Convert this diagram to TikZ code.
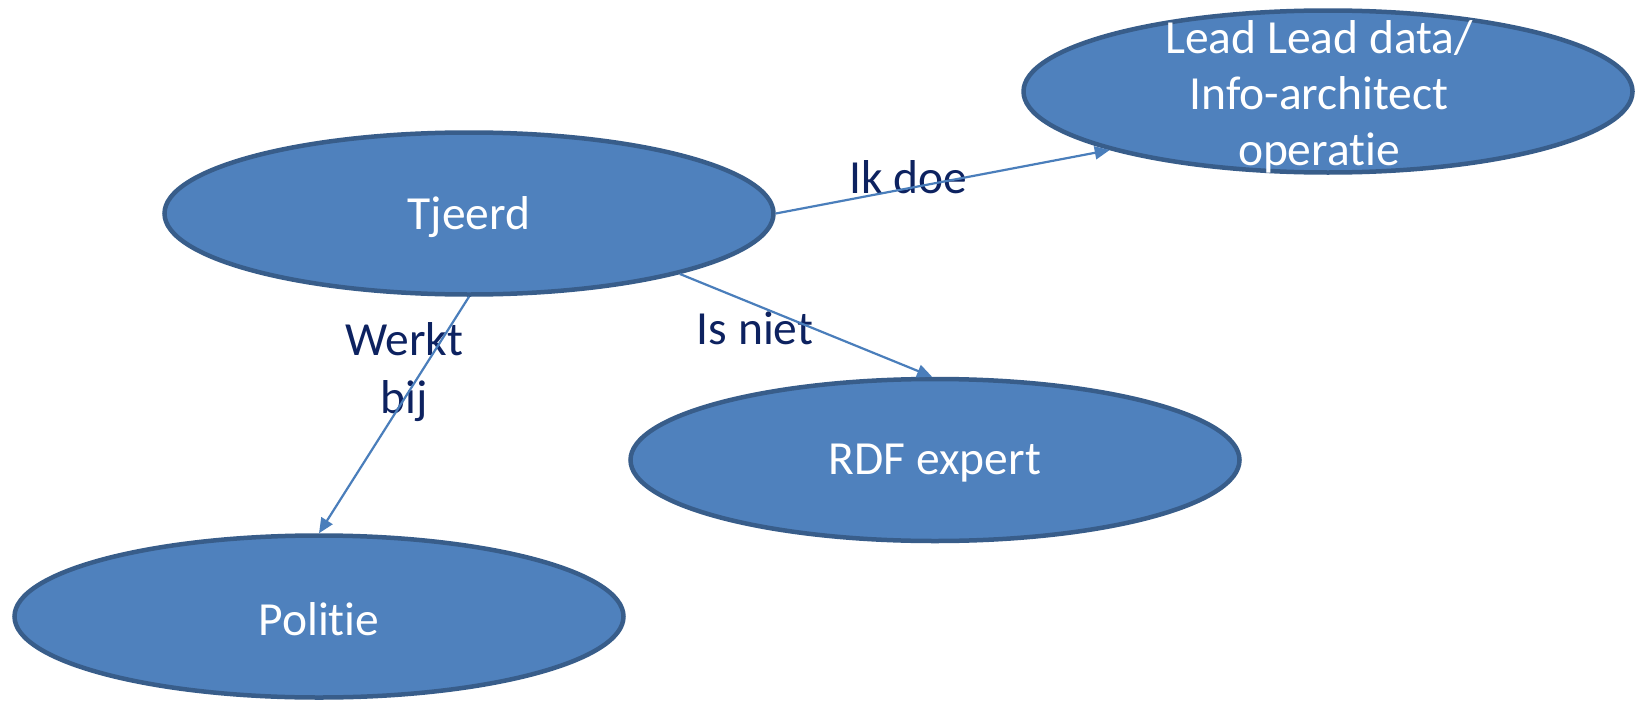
\documentclass[tikz,border=0pt]{standalone}
\usepackage{fontspec}
\setmainfont[RawFeature={-liga;-clig;-dlig;-calt}]{Carlito}
\usetikzlibrary{shapes.geometric,arrows.meta}
\definecolor{fillblue}{HTML}{4F81BD}
\definecolor{edgeblue}{HTML}{385D8A}
\definecolor{lineblue}{HTML}{4A7EBB}
\definecolor{navy}{HTML}{0D2260}
\begin{document}
\begin{tikzpicture}[x=1pt,y=-1pt,
  bubble/.style={ellipse,draw=edgeblue,fill=fillblue,line width=4.5pt,minimum width=609pt,minimum height=162pt,inner sep=0pt},
  btext/.style={text=white,font=\fontsize{47.5}{56}\selectfont,align=center,inner sep=0pt},
  lbl/.style={text=navy,font=\fontsize{47.5}{58}\selectfont,align=center,inner sep=0pt},
  conn/.style={draw=lineblue,line width=2.2pt,-{Triangle[length=15pt,width=13pt]}}]
\fill[white] (0,0) rectangle (1644,704);
\useasboundingbox (0,0) rectangle (1644,704);
\node[bubble] (tj) at (469,213.5) {};
\node[bubble] (lead) at (1328,91.5) {};
\node[bubble] (rdf) at (935,460) {};
\node[bubble] (pol) at (319,616.5) {};
\node[btext] (tjt) at (469,217) {Tjeerd};
\node[btext] (leadt) at (1319,97) {Lead Lead data/\\Info-architect\\operat\kern0pt ie};
\node[btext] (rdft) at (935,463) {RDF expert};
\node[btext] (polt) at (319,619) {Polit\kern0pt ie};
\node[lbl] (l1) at (908,177) {Ik doe};
\node[lbl] (l2) at (755,328) {Is niet};
\node[lbl] (l3) at (404,372) {Werkt\\bij};
\draw[conn] (tj.east) -- (lead.195);
\draw[conn] (tj.344) -- (rdf.92);
\draw[conn] (tj.south) -- (pol.north);
\end{tikzpicture}
\end{document}
